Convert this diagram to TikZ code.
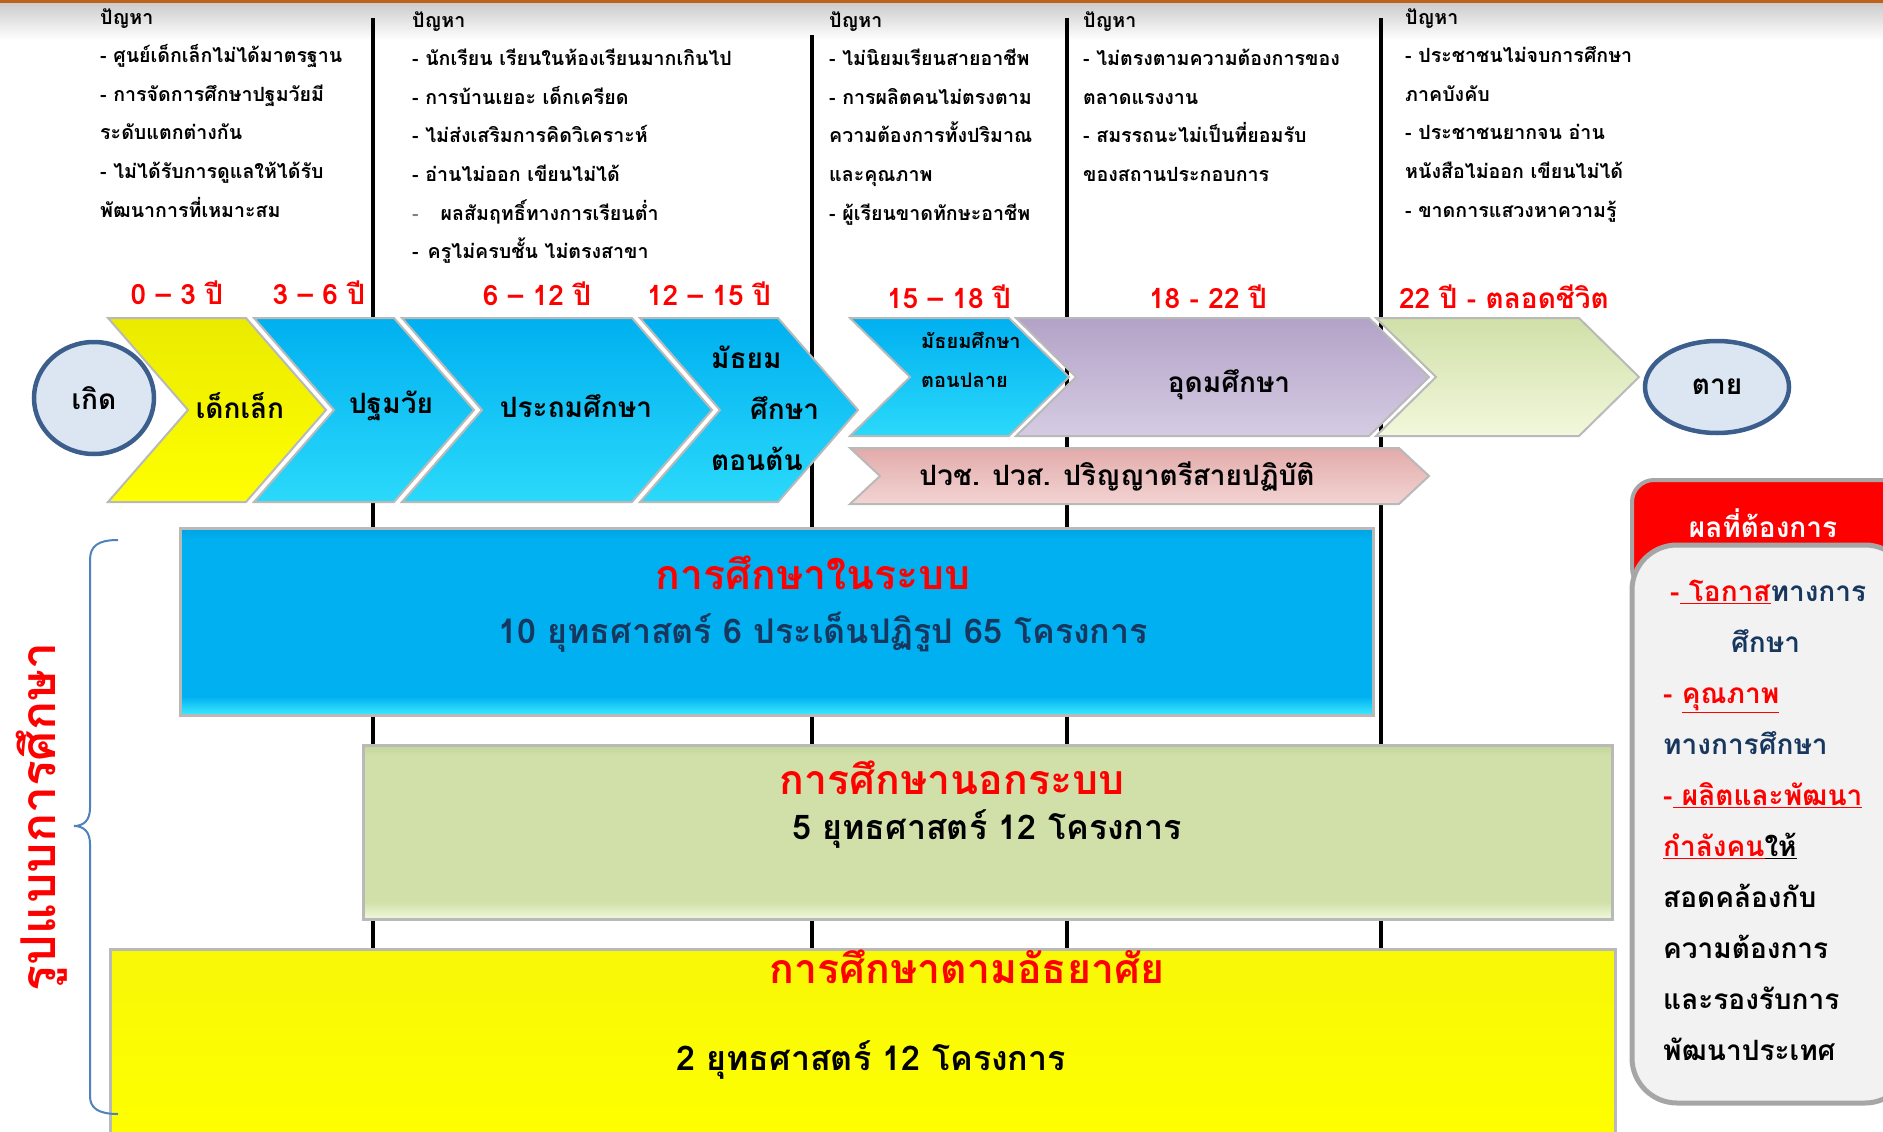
\documentclass[tikz,border=0pt]{standalone}
\usepackage{fontspec}
\setmainfont[Script=Thai]{Loma}
\usetikzlibrary{positioning,shapes.geometric}
\definecolor{tkRust}{HTML}{C0611B}
\definecolor{tkCyan}{HTML}{00B0F0}
\definecolor{tkCyanHi}{HTML}{3DEBFF}
\definecolor{tkYellow}{HTML}{FFFF00}
\definecolor{tkLilac}{HTML}{B3A2C7}
\definecolor{tkLilacHi}{HTML}{D5CCE3}
\definecolor{tkSage}{HTML}{D0E0A8}
\definecolor{tkSageHi}{HTML}{F2F8DC}
\definecolor{tkSageDk}{HTML}{C2D598}
\definecolor{tkRose}{HTML}{E2ABAA}
\definecolor{tkRoseHi}{HTML}{F2D4D3}
\definecolor{tkNavy}{HTML}{17375E}
\definecolor{tkRing}{HTML}{3B5E8C}
\definecolor{tkMist}{HTML}{DCE6F2}
\definecolor{tkPanel}{HTML}{F2F2F2}
\definecolor{tkBrace}{HTML}{4F81BD}
\definecolor{tkCyanDk}{HTML}{00A2E0}
\pgfdeclareverticalshading{bandcyan}{100bp}{color(0bp)=(tkCyanHi); color(25bp)=(tkCyanHi); color(30bp)=(tkCyan); color(72bp)=(tkCyan); color(75bp)=(tkCyanDk); color(100bp)=(tkCyanDk)}
\pgfdeclareverticalshading{bandsage}{100bp}{color(0bp)=(tkSageHi); color(25bp)=(tkSageHi); color(30bp)=(tkSage); color(72bp)=(tkSage); color(75bp)=(tkSageDk); color(100bp)=(tkSageDk)}
\newcommand{\fsz}[2]{\fontsize{#1}{#2}\selectfont}
% chevron: style, left x, right x, tip x, top y, bottom y
\newcommand{\chev}[6]{%
  \pgfmathsetmacro\cvmid{(#5+#6)/2}%
  \pgfmathsetmacro\cvnotch{#2+#4-#3}%
  \path[#1] (#2,#5) -- (#3,#5) -- (#4,\cvmid) -- (#3,#6) -- (#2,#6) -- (\cvnotch,\cvmid) -- cycle;}
\begin{document}
\begin{tikzpicture}[x=1pt,y=-1pt,
  problem/.style={anchor=north west,align=left,inner sep=0pt,font=\bfseries\fsz{19.6}{38.6}},
  age/.style={font=\bfseries\fsz{28}{30},text=red},
  stagetext/.style={font=\bfseries\fsz{28}{51},align=left,inner sep=0pt},
  chevline/.style={draw=gray!55,line width=2pt},
  lifeend/.style={ellipse,draw=tkRing,line width=4.5pt,fill=tkMist,font=\bfseries\fsz{28}{30},inner sep=0pt},
  timeline/.style={line width=4pt},
  bandbox/.style={draw=gray!55,line width=3pt,inner sep=0pt},
  boxtitle/.style={font=\bfseries\fsz{41}{43},text=red},
  boxsub/.style={font=\bfseries\fsz{34}{36}}]
\useasboundingbox (0,0) rectangle (1883,1132);
% top rule
\shade[top color=gray!40,bottom color=white] (0,3) rectangle (1883,40);
\fill[tkRust] (0,0) rectangle (1883,3.5);

% problems per stage
\node[problem] (prob1) at (100,8) {ปัญหา\\- ศูนย์เด็กเล็กไม่ได้มาตรฐาน\\- การจัดการศึกษาปฐมวัยมี\\ระดับแตกต่างกัน\\- ไม่ได้รับการดูแลให้ได้รับ\\พัฒนาการที่เหมาะสม};
\node[problem] (prob2) at (412,11) {ปัญหา\\- นักเรียน เรียนในห้องเรียนมากเกินไป\\- การบ้านเยอะ เด็กเครียด\\- ไม่ส่งเสริมการคิดวิเคราะห์\\- อ่านไม่ออก เขียนไม่ได้\\\textcolor{gray}{-}\hspace*{22pt}ผลสัมฤทธิ์ทางการเรียนต่ำ\\-\hspace*{9pt}ครูไม่ครบชั้น ไม่ตรงสาขา};
\node[problem] (prob3) at (829,11) {ปัญหา\\- ไม่นิยมเรียนสายอาชีพ\\- การผลิตคนไม่ตรงตาม\\ความต้องการทั้งปริมาณ\\และคุณภาพ\\- ผู้เรียนขาดทักษะอาชีพ};
\node[problem] (prob4) at (1083,11) {ปัญหา\\- ไม่ตรงตามความต้องการของ\\ตลาดแรงงาน\\- สมรรถนะไม่เป็นที่ยอมรับ\\ของสถานประกอบการ};
\node[problem] (prob5) at (1405,8) {ปัญหา\\- ประชาชนไม่จบการศึกษา\\ภาคบังคับ\\- ประชาชนยากจน อ่าน\\หนังสือไม่ออก เขียนไม่ได้\\- ขาดการแสวงหาความรู้};

% stage borders
\foreach \x/\y in {373/18, 812/35, 1067/18, 1381/18}
  \draw[timeline] (\x,\y) -- (\x,949);

% ages
\node[age] (age1) at (177,293) {0 – 3 ปี};
\node[age] (age2) at (319,293) {3 – 6 ปี};
\node[age] (age3) at (537,294) {6 – 12 ปี};
\node[age] (age4) at (709,294) {12 – 15 ปี};
\node[age] (age5) at (949,297) {15 – 18 ปี};
\node[age] (age6) at (1208,297) {18 - 22 ปี};
\node[age] (age7) at (1504,297) {22 ปี - ตลอดชีวิต};

% stages
\chev{chevline,top color=tkYellow!92!black,bottom color=tkYellow}{108}{246}{326}{318}{502}
\chev{chevline,top color=tkCyan,bottom color=tkCyanHi!70!tkCyan}{254}{394}{474}{318}{502}
\chev{chevline,top color=tkCyan,bottom color=tkCyanHi!70!tkCyan}{402}{632}{712}{318}{502}
\chev{chevline,top color=tkCyan,bottom color=tkCyanHi!70!tkCyan}{640}{778}{858}{318}{502}
\chev{chevline,top color=tkCyan,bottom color=tkCyanHi!70!tkCyan}{850}{1009}{1069}{318}{436}
\chev{chevline,top color=tkLilac,bottom color=tkLilacHi}{1016}{1369}{1429}{318}{436}
\chev{chevline,top color=tkSage,bottom color=tkSageHi}{1376}{1579}{1639}{318}{436}
\chev{chevline,top color=tkRose,bottom color=tkRoseHi}{850}{1399}{1429}{448}{504}

\node[lifeend,minimum width=120pt,minimum height=112pt] (birth) at (94,398) {เกิด};
\node[lifeend,minimum width=144pt,minimum height=92pt] (death) at (1717,387) {ตาย};

\node[stagetext] (kid) at (240,406) {เด็กเล็ก};
\node[stagetext] (pre) at (391,406) {ปฐมวัย};
\node[stagetext] (prim) at (576,406) {ประถมศึกษา};
\node[stagetext,anchor=north west] (lowsec) at (711,346) {มัธยม\\\hspace*{39pt}ศึกษา\\ตอนต้น};
\node[stagetext,anchor=north west,font=\bfseries\fsz{20}{39}] (upsec) at (921,332) {มัธยมศึกษา\\ตอนปลาย};
\node[stagetext] (higher) at (1229,385) {อุดมศึกษา};
\node[stagetext] (voc) at (1117,477) {ปวช. ปวส. ปริญญาตรีสายปฏิบัติ};

% education forms
\node[bandbox,shading=bandcyan,minimum width=1193pt,minimum height=187pt] (formal) at (776.5,621.5) {};
\node[boxtitle] (formalT) at (813,573) {การศึกษาในระบบ};
\node[boxsub,text=tkNavy] (formalS) at (823,632) {10 ยุทธศาสตร์ 6 ประเด็นปฏิรูป 65 โครงการ};

\node[bandbox,shading=bandsage,minimum width=1249pt,minimum height=174pt] (nonformal) at (987.5,832) {};
\node[boxtitle] (nonformalT) at (952,778) {การศึกษานอกระบบ};
\node[boxsub] (nonformalS) at (987,829) {5 ยุทธศาสตร์ 12 โครงการ};

\node[bandbox,top color=tkYellow!94!gray,bottom color=tkYellow,minimum width=1505pt,minimum height=195pt] (informal) at (862.5,1046.5) {};
\node[boxtitle] (informalT) at (967,967) {การศึกษาตามอัธยาศัย};
\node[boxsub] (informalS) at (871,1060) {2 ยุทธศาสตร์ 12 โครงการ};

\draw[tkBrace,line width=2pt] (118,540) .. controls (98,540) and (90,546) .. (90,560) -- (90,808)
  .. controls (90,820) and (84,826) .. (74,826) .. controls (84,826) and (90,832) .. (90,844)
  -- (90,1096) .. controls (90,1108) and (98,1114) .. (118,1114);
\node[rotate=90,font=\bfseries\fsz{48}{50},text=red] (forms) at (42,817) {รูปแบบการศึกษา};

% outcomes
\draw[draw=gray!70,line width=4pt,fill=red,rounded corners=22pt] (1632,480) rectangle (1910,590);
\node[font=\bfseries\fsz{28}{30},text=white] (goalT) at (1763,523) {ผลที่ต้องการ};
\draw[draw=gray!70,line width=5pt,fill=tkPanel,rounded corners=45pt] (1632,545) rectangle (1910,1103);
\node[anchor=north west,align=left,inner sep=0pt,font=\bfseries\fsz{28}{51}] (goals) at (1663,580)
  {\hspace*{7pt}\textcolor{red}{-\underline{\ โอกาส}}\textcolor{tkNavy}{ทางการ}\\
   \hspace*{68pt}\textcolor{tkNavy}{ศึกษา}\\
   \textcolor{red}{- \underline{คุณภาพ}}\\
   \textcolor{tkNavy}{ทางการศึกษา}\\
   \textcolor{red}{-\underline{\ ผลิตและพัฒนา}}\\
   \textcolor{red}{\underline{กำลังคน}}\underline{ให้}\\
   สอดคล้องกับ\\ความต้องการ\\และรองรับการ\\พัฒนาประเทศ};
\end{tikzpicture}
\end{document}
